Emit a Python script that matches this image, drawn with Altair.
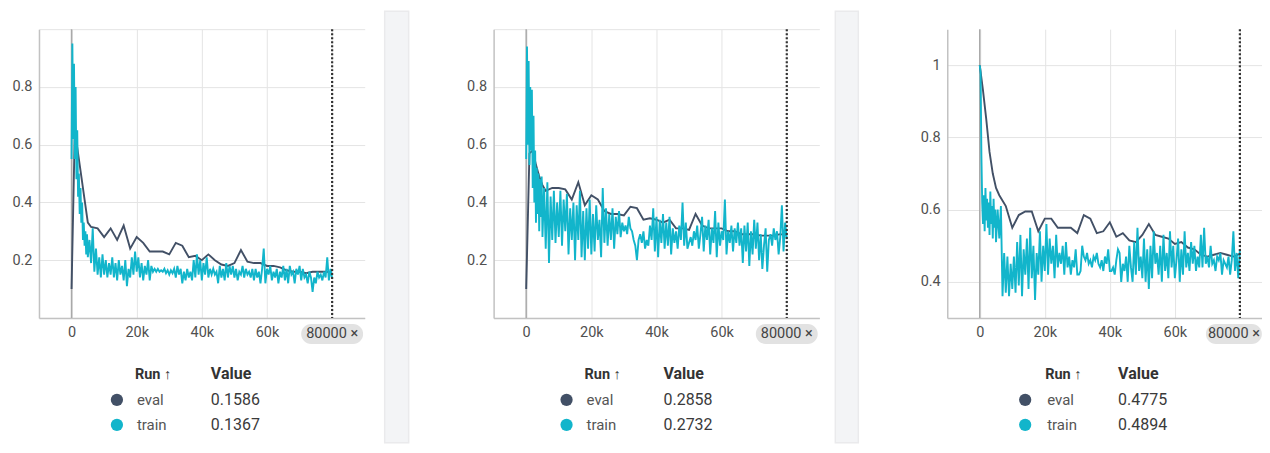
import altair as alt
import pandas as pd

FONT = "Roboto"
RUNS = ["eval", "train"]
RUN_COLORS = ["#425066", "#12b5cb"]

EVAL_STEPS = [0, 1000, 2000, 3000, 4000, 5000, 6000] + list(range(8000, 80001, 2000))
TRAIN_STEPS = list(range(0, 5001, 250)) + list(range(5500, 80001, 500))

X_TICKS = [0, 20000, 40000, 60000, 80000]
Y_TICKS_A = [0, 0.2, 0.4, 0.6, 0.8, 1.0]
Y_TICKS_B = [0.4, 0.6, 0.8, 1.0]

# ---------------- panel 1 ----------------
eval1 = [0.10, 0.65, 0.57, 0.49, 0.41, 0.33, 0.315,
         0.31, 0.28, 0.31, 0.27, 0.32, 0.24, 0.28, 0.26, 0.23, 0.23,
         0.23, 0.22, 0.26, 0.25, 0.21, 0.215, 0.20, 0.22, 0.20, 0.185,
         0.18, 0.19, 0.235, 0.195, 0.19, 0.19, 0.18, 0.18, 0.175, 0.165,
         0.16, 0.16, 0.155, 0.16, 0.16, 0.16, 0.1586]
train1 = [0.55, 0.95, 0.62, 0.88, 0.55, 0.80, 0.48, 0.65, 0.42, 0.50, 0.36,
          0.45, 0.33, 0.40, 0.27, 0.33, 0.25, 0.30, 0.22, 0.29, 0.21,
          0.27, 0.19, 0.31, 0.16, 0.24, 0.15, 0.21, 0.14, 0.22, 0.15,
          0.20, 0.14, 0.19, 0.15, 0.21, 0.14, 0.19, 0.13, 0.20, 0.15,
          0.18, 0.13, 0.20, 0.11, 0.17, 0.14, 0.21, 0.15, 0.23, 0.16,
          0.21, 0.14, 0.19, 0.13, 0.18, 0.15, 0.20, 0.13, 0.18, 0.16,
          0.17, 0.16, 0.17, 0.16, 0.165, 0.16, 0.17, 0.155, 0.165, 0.15,
          0.165, 0.155, 0.17, 0.14, 0.18, 0.15, 0.17, 0.12, 0.16, 0.13,
          0.17, 0.14, 0.16, 0.13, 0.20, 0.14, 0.22, 0.15, 0.20, 0.13,
          0.19, 0.15, 0.21, 0.14, 0.17, 0.15, 0.17, 0.15, 0.16, 0.12,
          0.18, 0.14, 0.17, 0.13, 0.19, 0.14, 0.18, 0.15, 0.18, 0.14,
          0.17, 0.13, 0.16, 0.15, 0.18, 0.14, 0.17, 0.15, 0.16, 0.14,
          0.17, 0.13, 0.17, 0.14, 0.16, 0.12, 0.17, 0.24, 0.12, 0.17,
          0.15, 0.18, 0.13, 0.16, 0.14, 0.17, 0.12, 0.16, 0.14, 0.18,
          0.13, 0.17, 0.12, 0.18, 0.15, 0.16, 0.12, 0.17, 0.15, 0.18,
          0.13, 0.17, 0.14, 0.15, 0.12, 0.16, 0.14, 0.09, 0.14, 0.12,
          0.16, 0.14, 0.15, 0.13, 0.16, 0.14, 0.21, 0.13, 0.17, 0.137]
final1 = ["0.1586", "0.1367"]

# ---------------- panel 2 ----------------
eval2 = [0.10, 0.57, 0.58, 0.53, 0.49, 0.46, 0.44,
         0.45, 0.45, 0.445, 0.41, 0.47, 0.39, 0.425, 0.41, 0.37, 0.36,
         0.36, 0.355, 0.385, 0.38, 0.34, 0.345, 0.34, 0.33, 0.34, 0.31,
         0.31, 0.305, 0.36, 0.32, 0.31, 0.31, 0.31, 0.30, 0.30, 0.29,
         0.29, 0.29, 0.285, 0.285, 0.285, 0.29, 0.2858]
train2 = [0.55, 0.94, 0.60, 0.89, 0.53, 0.80, 0.58, 0.79, 0.45, 0.70, 0.40,
          0.58, 0.33, 0.52, 0.36, 0.50, 0.30, 0.48, 0.35, 0.49, 0.28,
          0.45, 0.24, 0.47, 0.19, 0.42, 0.27, 0.44, 0.26, 0.40, 0.28,
          0.44, 0.25, 0.41, 0.30, 0.43, 0.22, 0.38, 0.27, 0.40, 0.20,
          0.39, 0.27, 0.44, 0.21, 0.37, 0.20, 0.38, 0.24, 0.41, 0.22,
          0.36, 0.23, 0.39, 0.27, 0.34, 0.21, 0.45, 0.26, 0.38, 0.25,
          0.36, 0.27, 0.38, 0.24, 0.35, 0.29, 0.37, 0.28, 0.33, 0.30,
          0.32, 0.29, 0.35, 0.31, 0.30, 0.27, 0.25, 0.20, 0.27, 0.29,
          0.26, 0.30, 0.24, 0.27, 0.25, 0.32, 0.27, 0.38, 0.23, 0.35,
          0.21, 0.34, 0.26, 0.36, 0.24, 0.33, 0.25, 0.35, 0.22, 0.31,
          0.26, 0.30, 0.24, 0.32, 0.27, 0.40, 0.25, 0.33, 0.24, 0.26,
          0.28, 0.25, 0.30, 0.27, 0.32, 0.24, 0.29, 0.35, 0.23, 0.32,
          0.27, 0.34, 0.22, 0.31, 0.26, 0.37, 0.21, 0.33, 0.25, 0.30,
          0.27, 0.41, 0.22, 0.30, 0.26, 0.32, 0.23, 0.31, 0.26, 0.33,
          0.25, 0.31, 0.19, 0.32, 0.23, 0.33, 0.18, 0.30, 0.22, 0.34,
          0.24, 0.33, 0.20, 0.29, 0.17, 0.25, 0.31, 0.16, 0.27, 0.29,
          0.25, 0.31, 0.27, 0.30, 0.22, 0.28, 0.39, 0.23, 0.33, 0.2732]
final2 = ["0.2858", "0.2732"]

# ---------------- panel 3 ----------------
eval3 = [1.00, 0.93, 0.85, 0.76, 0.70, 0.66, 0.64,
         0.61, 0.55, 0.585, 0.595, 0.595, 0.54, 0.575, 0.575, 0.55, 0.55,
         0.55, 0.535, 0.585, 0.575, 0.535, 0.54, 0.565, 0.525, 0.535, 0.515,
         0.51, 0.53, 0.56, 0.53, 0.525, 0.52, 0.505, 0.51, 0.495, 0.49,
         0.475, 0.47, 0.475, 0.48, 0.475, 0.47, 0.4775]
train3 = [1.00, 0.98, 0.75, 0.62, 0.56, 0.64, 0.54, 0.66, 0.57, 0.63, 0.55,
          0.62, 0.53, 0.65, 0.56, 0.61, 0.52, 0.63, 0.55, 0.60, 0.51,
          0.60, 0.52, 0.61, 0.36, 0.48, 0.37, 0.47, 0.36, 0.45, 0.38,
          0.47, 0.37, 0.51, 0.39, 0.53, 0.36, 0.49, 0.42, 0.52, 0.38,
          0.55, 0.41, 0.50, 0.35, 0.48, 0.42, 0.54, 0.40, 0.50, 0.43,
          0.56, 0.42, 0.52, 0.45, 0.50, 0.41, 0.53, 0.44, 0.48, 0.45,
          0.50, 0.42, 0.51, 0.44, 0.47, 0.42, 0.46, 0.44, 0.49, 0.42,
          0.42, 0.43, 0.50, 0.47, 0.46, 0.48, 0.45, 0.46, 0.44, 0.47,
          0.46, 0.48, 0.45, 0.44, 0.46, 0.43, 0.47, 0.45, 0.49, 0.43,
          0.43, 0.44, 0.42, 0.46, 0.49, 0.48, 0.40, 0.45, 0.43, 0.47,
          0.40, 0.50, 0.44, 0.40, 0.51, 0.42, 0.55, 0.43, 0.47, 0.41,
          0.52, 0.40, 0.49, 0.38, 0.50, 0.41, 0.54, 0.45, 0.48, 0.42,
          0.50, 0.40, 0.53, 0.43, 0.48, 0.41, 0.54, 0.44, 0.50, 0.41,
          0.46, 0.52, 0.40, 0.49, 0.42, 0.54, 0.44, 0.48, 0.43, 0.51,
          0.45, 0.50, 0.43, 0.47, 0.44, 0.53, 0.44, 0.55, 0.45, 0.47,
          0.44, 0.50, 0.45, 0.46, 0.43, 0.47, 0.46, 0.48, 0.42, 0.46,
          0.45, 0.44, 0.47, 0.42, 0.46, 0.54, 0.43, 0.48, 0.41, 0.4894]
final3 = ["0.4775", "0.4894"]

H = 289
ONE = pd.DataFrame({"k": [0]})


def make_panel(ev, tr, finals, ydom, yticks, ylabel_expr, width, xmax,
               dot_dx, text_dx, val_dx, pill_half, pill_shift=0, anchor=False):
    df = pd.DataFrame({
        "step": EVAL_STEPS + TRAIN_STEPS,
        "value": ev + tr,
        "run": ["eval"] * len(ev) + ["train"] * len(tr),
    })
    xenc = alt.X(
        "step:Q",
        scale=alt.Scale(domain=[-10000, xmax], nice=False, zero=False),
        axis=alt.Axis(values=X_TICKS, title=None, grid=True, gridColor="#e4e4e4",
                      domainColor="#c2c2c2", domainWidth=1.5, ticks=False,
                      labelPadding=8, labelFontSize=14.5, labelColor="#505050",
                      labelFont=FONT,
                      labelExpr="datum.value == 80000 ? '' : (datum.value == 0 ? '0' : format(datum.value / 1000, 'd') + 'k')"),
    )
    yenc = alt.Y(
        "value:Q",
        scale=alt.Scale(domain=ydom, nice=False, zero=False),
        axis=alt.Axis(values=yticks, title=None, grid=True, gridColor="#e4e4e4",
                      domainColor="#c2c2c2", domainWidth=1.5, ticks=False,
                      labelPadding=7, labelFontSize=14.5, labelColor="#505050",
                      labelFont=FONT, labelExpr=ylabel_expr),
    )
    steps80 = pd.DataFrame({"step": [80000]})
    zero = alt.Chart(pd.DataFrame({"step": [0]})).mark_rule(
        color="#a9a9a9", strokeWidth=1.5).encode(x=xenc)
    lines = alt.Chart(df).mark_line(strokeWidth=1.9).encode(
        x=xenc, y=yenc,
        color=alt.Color("run:N", scale=alt.Scale(domain=RUNS, range=RUN_COLORS), legend=None),
    )
    cursor = alt.Chart(steps80).mark_rule(
        color="#333333", strokeWidth=2.2, strokeDash=[2, 2]).encode(x=xenc)
    pill = alt.Chart(steps80).mark_rect(
        color="#e2e2e2", cornerRadius=10,
        xOffset=-pill_half + pill_shift, x2Offset=pill_half + pill_shift).encode(
        x=xenc, x2=alt.X2("step"), y=alt.value(H + 6), y2=alt.value(H + 26))
    pill_text = alt.Chart(steps80).mark_text(
        text="80000 ×", font=FONT, fontSize=14.5, color="#444", align="center",
        baseline="middle", dx=pill_shift).encode(x=xenc, y=alt.value(H + 16.5))

    layers = [zero, lines, cursor, pill, pill_text]

    hdr_run = alt.Chart(ONE).mark_text(
        text="Run ↑", font=FONT, fontSize=14.5, fontWeight="bold", color="#333",
        align="left", baseline="middle").encode(x=alt.value(text_dx - 2), y=alt.value(H + 57))
    hdr_val = alt.Chart(ONE).mark_text(
        text="Value", font=FONT, fontSize=16, fontWeight="bold", color="#333",
        align="left", baseline="middle").encode(x=alt.value(val_dx), y=alt.value(H + 56))
    layers += [hdr_run, hdr_val]
    for i, (run, col) in enumerate(zip(RUNS, RUN_COLORS)):
        yy = H + 82 + 25 * i
        layers.append(alt.Chart(ONE).mark_circle(size=150, opacity=1, color=col).encode(
            x=alt.value(dot_dx), y=alt.value(yy)))
        layers.append(alt.Chart(ONE).mark_text(
            text=run, font=FONT, fontSize=15, color="#555", align="left",
            baseline="middle").encode(x=alt.value(text_dx), y=alt.value(yy)))
        layers.append(alt.Chart(ONE).mark_text(
            text=finals[i], font=FONT, fontSize=16, color="#3a3a3a", align="left",
            baseline="middle").encode(x=alt.value(val_dx), y=alt.value(yy)))
    if anchor:
        layers.append(alt.Chart(ONE).mark_rect(color="white").encode(
            x=alt.value(-31), x2=alt.value(-30), y=alt.value(-21), y2=alt.value(-20)))
    return alt.layer(*layers).properties(width=width, height=H)


def make_strip(width, a, b):
    return alt.Chart(ONE).mark_rect(
        fill="#f3f4f6", stroke="#eaeaec", strokeWidth=1.5).encode(
        x=alt.value(a), x2=alt.value(b), y=alt.value(-18), y2=alt.value(414)
    ).properties(width=width, height=H)


hide01 = "datum.value == 0 || datum.value == 1 ? '' : format(datum.value, '.1f')"
fmt3 = "format(datum.value, '~g')"

p1 = make_panel(eval1, train1, final1, [0, 1], Y_TICKS_A, hide01, 326, 90000,
                78, 98, 172, 31, anchor=True)
p2 = make_panel(eval2, train2, final2, [0, 1], Y_TICKS_A, hide01, 326, 90000,
                73, 93, 170, 31)
p3 = make_panel(eval3, train3, final3, [0.3, 1.1], Y_TICKS_B, fmt3, 315, 86800,
                78, 100, 171, 28, pill_shift=-6)

s1 = make_strip(128.5, 20, 44)
s2 = make_strip(127.5, 16, 39)

chart = alt.hconcat(p1, s1, p2, s2, p3, spacing=0, bounds="flush", padding=0).configure_view(
    stroke=None)

chart.save("out.html", embed_options={"renderer": "svg", "actions": False})
